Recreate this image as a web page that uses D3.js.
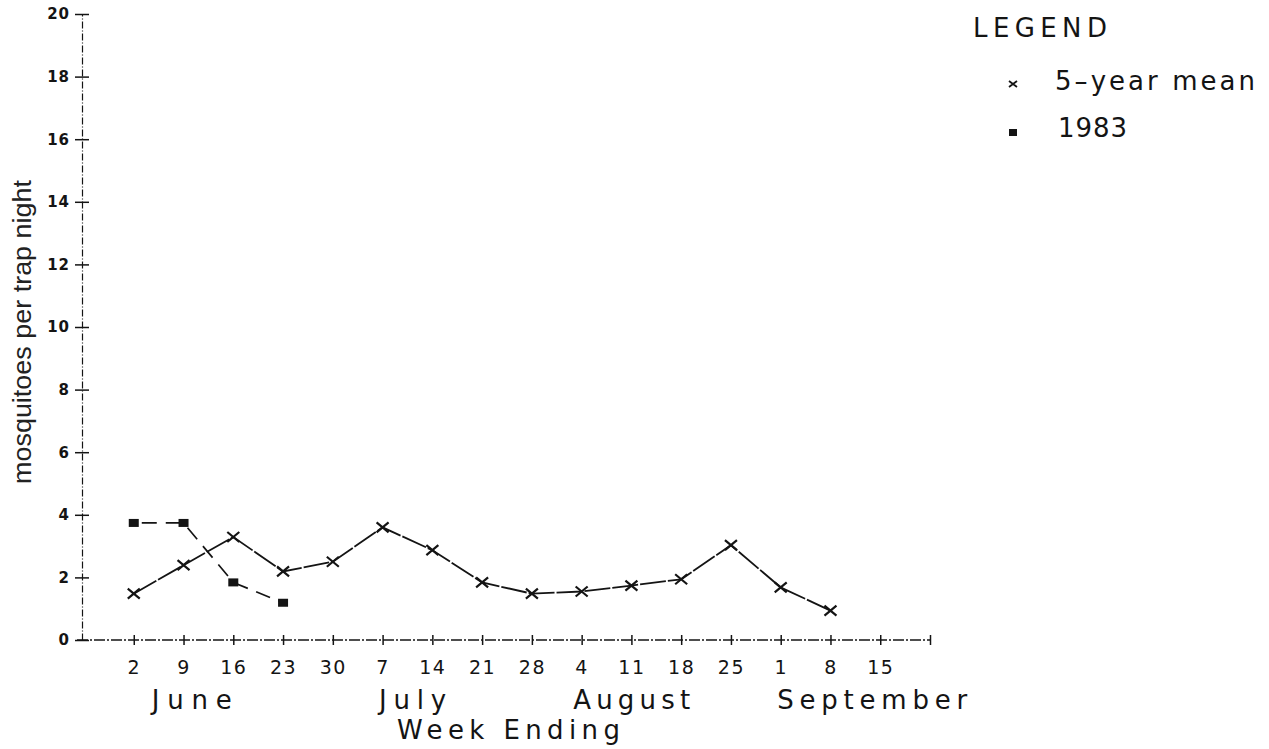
<!DOCTYPE html>
<html><head><meta charset="utf-8">
<script src="https://cdn.jsdelivr.net/npm/d3@7"></script>
<style>body{margin:0;background:#fff} svg{display:block}</style>
</head><body>
<svg id="chart" width="1269" height="749"></svg>
<script>
// ---- data ----
const weekLabels = ["2","9","16","23","30","7","14","21","28","4","11","18","25","1","8","15"];
const monthLabels = ["June","July","August","September"];
const meanValues = [1.48,2.39,3.29,2.19,2.50,3.60,2.87,1.84,1.48,1.55,1.74,1.94,3.03,1.68,0.94];
const values1983 = [3.74,3.74,1.84,1.19];
const yTicks = [0,2,4,6,8,10,12,14,16,18,20];
const legendTitle = "LEGEND";
const seriesNames = ["5\u2013year mean","1983"];
const xTitle = "Week Ending";
const yTitle = "mosquitoes per trap night";

// ---- layout ----
const ink = "#141414";
const svg = d3.select("#chart");
const x = d3.scaleLinear().domain([0,17]).range([84,930]);
const y = d3.scaleLinear().domain([0,20]).range([640,14]);
const axisX = 82;

// y axis
const gy = svg.append("g").attr("transform",`translate(${axisX},0)`)
  .call(d3.axisLeft(y).tickValues(yTicks).tickSize(7).tickSizeOuter(0).tickPadding(5));
gy.select(".domain").attr("stroke",ink).attr("stroke-width",1.2).attr("stroke-dasharray","7,2,1,2");
gy.selectAll(".tick line").attr("x1",7).attr("stroke",ink).attr("stroke-width",1.5);
gy.selectAll(".tick text").style("font-family","DejaVu Sans").style("font-size","15px")
  .style("font-weight","bold").attr("letter-spacing",1).attr("fill",ink);

// x axis
const gx = svg.append("g").attr("transform",`translate(0,${y(0)})`)
  .call(d3.axisBottom(x).tickValues(d3.range(1,18)).tickSize(5).tickSizeOuter(0).tickPadding(16)
    .tickFormat(i => weekLabels[i-1] || ""));
gx.select(".domain").remove();
gx.insert("line",":first-child").attr("x1",77).attr("x2",x(17)).attr("y1",0).attr("y2",0)
  .attr("stroke",ink).attr("stroke-width",1.4).attr("stroke-dasharray","11,2,2,2");
gx.selectAll(".tick line").attr("y1",-5).attr("stroke",ink).attr("stroke-width",1.5);
gx.selectAll(".tick text").style("font-family","DejaVu Sans").style("font-size","19px")
  .attr("letter-spacing",1.5).attr("fill",ink);

// month labels
const monthAnchor = [1.36,5.93,9.83,13.93];
const monthWidth = [80,67,117,190];
svg.append("g").selectAll("text").data(monthLabels).join("text")
  .attr("x",(d,i)=>x(monthAnchor[i])).attr("y",709)
  .attr("textLength",(d,i)=>monthWidth[i]).attr("lengthAdjust","spacing")
  .style("font-family","DejaVu Sans").style("font-size","26px").attr("fill",ink)
  .text(d=>d);

// axis titles
svg.append("text").attr("x",397).attr("y",739).attr("textLength",223).attr("lengthAdjust","spacing")
  .style("font-family","DejaVu Sans").style("font-size","26px").attr("fill",ink).text(xTitle);
svg.append("text").attr("transform","translate(31,332) rotate(-90)").attr("text-anchor","middle")
  .attr("textLength",304).attr("lengthAdjust","spacingAndGlyphs")
  .style("font-family","Liberation Sans").style("font-size","26px").attr("fill","#222").text(yTitle);

// series lines
const line = d3.line().x((d,i)=>x(i+1)).y(d=>y(d));
svg.append("path").datum(meanValues).attr("d",line).attr("fill","none")
  .attr("stroke",ink).attr("stroke-width",1.8).attr("stroke-dasharray","26,2");
svg.append("path").datum(values1983).attr("d",line).attr("fill","none")
  .attr("stroke",ink).attr("stroke-width",1.7).attr("stroke-dasharray","15,9")
  .attr("stroke-dashoffset",-8);

// markers
const xMark = "M-6,-5L6,5M-6,5L6,-5";
svg.append("g").selectAll("path").data(meanValues).join("path")
  .attr("transform",(d,i)=>`translate(${x(i+1)},${y(d)})`).attr("d",xMark)
  .attr("stroke",ink).attr("stroke-width",2.2).attr("fill","none");
svg.append("g").selectAll("rect").data(values1983).join("rect")
  .attr("x",(d,i)=>x(i+1)-5).attr("y",d=>y(d)-4).attr("width",10).attr("height",8)
  .attr("fill",ink);

// legend
const lg = svg.append("g");
lg.append("text").attr("x",973).attr("y",37).attr("textLength",134).attr("lengthAdjust","spacing")
  .style("font-family","DejaVu Sans").style("font-size","26px").attr("fill",ink).text(legendTitle);
lg.append("path").attr("transform","translate(1013,84)").attr("d","M-4,-3L4,3M-4,3L4,-3")
  .attr("stroke",ink).attr("stroke-width",1.8);
lg.append("rect").attr("x",1009).attr("y",129).attr("width",8).attr("height",7).attr("fill",ink);
const legendWidth = [200,69];
lg.selectAll("text.item").data(seriesNames).join("text").attr("class","item")
  .attr("x",(d,i)=>i===0?1055:1058).attr("y",(d,i)=>90+i*47)
  .attr("textLength",(d,i)=>legendWidth[i]).attr("lengthAdjust","spacing")
  .style("font-family","DejaVu Sans").style("font-size","26px").attr("fill",ink).text(d=>d);
</script>
</body></html>
